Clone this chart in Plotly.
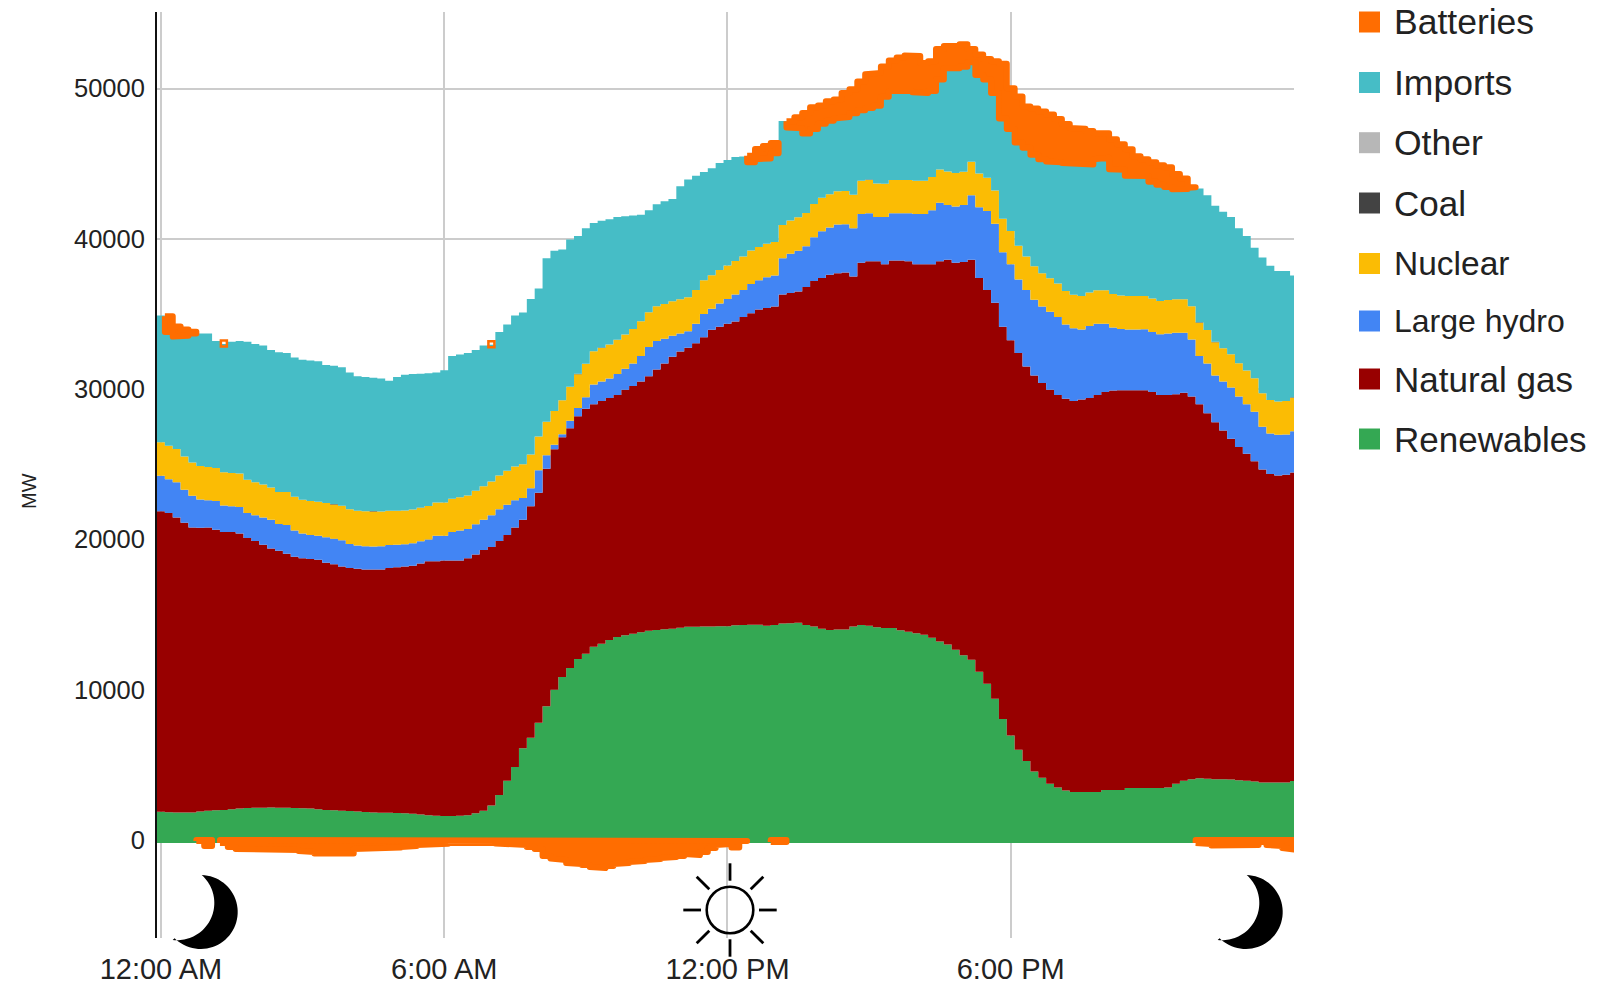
import numpy as np
import plotly.graph_objects as go

# Readings taken every 10 minutes, in MW. Each *_top is the upper edge of that band in the stack.
renewables = [1880,1850,1830,1830,1830,1900,1950,1980,2000,2050,2100,2130,2150,2150,2160,2150,2150,2130,2110,2090,
 2050,2000,1980,1950,1930,1900,1860,1830,1820,1810,1790,1780,1740,1700,1650,1620,1600,1600,1620,1650,
 1780,1950,2300,3000,3950,4850,6100,6800,7800,8900,10000,10850,11450,12050,12400,12850,13050,13300,13500,13620,
 13720,13820,13920,13980,14030,14060,14120,14180,14190,14200,14210,14220,14220,14280,14300,14320,14320,14250,14300,14400,
 14420,14450,14300,14200,14050,13980,14000,14000,14200,14300,14250,14150,14100,14100,13950,13850,13750,13650,13450,13200,
 13000,12650,12300,12000,11200,10400,9400,8050,6950,6000,5250,4550,4150,3750,3500,3300,3200,3200,3200,3200,
 3330,3330,3330,3460,3460,3460,3460,3460,3500,3750,3950,4050,4110,4080,4050,4050,4030,3980,3950,3900,
 3830,3820,3820,3830,3930]
natural_gas_top = [21870,21750,21450,21100,20800,20780,20800,20650,20500,20500,20400,20100,19900,19650,19400,19250,19050,18850,18750,18700,
 18650,18450,18350,18200,18100,18050,18000,18000,18000,18100,18150,18200,18250,18400,18550,18550,18600,18600,18600,18750,
 19000,19300,19500,19900,20300,20800,21300,22200,23100,24700,26000,26800,27400,28200,28700,29000,29200,29400,29600,29950,
 30200,30500,30850,31300,31700,32150,32500,32750,33050,33450,33950,34150,34350,34500,34800,35050,35300,35400,35500,36300,
 36400,36500,36800,37200,37400,37600,37700,37750,37500,38400,38500,38500,38300,38550,38550,38500,38300,38300,38300,38500,
 38600,38400,38450,38600,37400,36600,35750,34150,33250,32400,31500,30900,30400,29950,29600,29350,29200,29300,29400,29600,
 29800,29900,29930,29930,29930,29930,29800,29600,29600,29650,29750,29500,29000,28400,27800,27250,26700,26150,25700,25200,
 24650,24350,24250,24300,24450]
large_hydro_top = [24240,24000,23800,23300,22900,22650,22600,22550,22250,22200,22150,21750,21600,21450,21300,21020,20950,20600,20400,20300,
 20250,20150,20050,19950,19700,19600,19550,19530,19550,19630,19650,19680,19750,19870,20000,20250,20240,20500,20600,20700,
 21000,21300,21600,22000,22300,22600,22760,23400,24600,25600,26300,27000,27900,28750,29450,30300,30500,30700,31000,31350,
 31700,32200,32800,33200,33350,33550,33700,33850,34350,35000,35350,35700,36000,36300,36600,37000,37250,37450,37550,38700,
 39000,39200,39500,40100,40500,40750,40950,40960,40700,41650,41700,41450,41450,41700,41700,41700,41650,41650,41900,42400,
 42250,42150,42250,42900,42100,41850,41000,39100,38300,37300,36600,35950,35500,35150,34800,34300,34050,33970,34200,34350,
 34350,34100,34000,33970,33970,33980,33800,33650,33700,33750,33750,33300,32200,31700,30900,30500,30100,29500,29000,28500,
 27500,27050,26970,26980,27200]
nuclear = [2220,2230,2220,2210,2220,2230,2220,2200,2220,2210,2230,2220,2200,2210,2150,2130,2200,2230,2240,2250,
 2260,2270,2280,2290,2300,2300,2320,2330,2300,2280,2260,2250,2240,2230,2220,2210,2220,2200,2210,2220,
 2230,2240,2250,2250,2260,2250,2240,2250,2240,2230,2250,2260,2250,2240,2230,2220,2240,2260,2280,2290,
 2300,2310,2320,2320,2310,2290,2270,2260,2250,2240,2230,2230,2220,2220,2220,2220,2210,2220,2230,2220,
 2220,2230,2220,2220,2230,2220,2220,2220,2230,2220,2220,2230,2220,2220,2210,2220,2220,2210,2220,2210,
 2220,2220,2210,2230,2240,2220,2220,2230,2220,2230,2220,2220,2210,2220,2220,2230,2220,2220,2220,2230,
 2220,2220,2220,2220,2230,2220,2220,2210,2220,2220,2230,2220,2220,2230,2220,2210,2220,2220,2230,2220,
 2220,2220,2210,2220,2230]
coal = [0]*145
for i in (22, 27, 33, 53, 56, 90, 132, 134, 144):
    coal[i] = 25
other = [0]*145
imports_top = [34900,33800,33500,33550,33700,33700,33700,33200,33000,33150,33200,33150,33000,32900,32600,32450,32400,32100,31950,31900,
 31850,31600,31550,31450,31100,30850,30800,30750,30700,30550,30800,30950,31000,31020,31050,31100,31250,32200,32300,32400,
 32600,32900,32950,33800,34300,34900,35100,36000,36700,38700,39200,39280,39950,40180,40700,41050,41200,41300,41450,41500,
 41550,41600,41900,42300,42500,42650,43500,43950,44200,44450,44700,45050,45250,45450,45480,45100,45300,45350,45700,47830,
 47400,47350,47000,47300,47650,47850,48000,48100,48350,48550,48700,48850,49450,49830,49830,49830,49750,49700,49830,50600,
 51340,51340,51450,51750,50900,50600,49700,48000,47300,46400,46050,45600,45300,45150,45100,45050,45000,44950,44950,45300,
 45400,44620,44600,44200,44150,44170,43800,43600,43450,43300,43320,43400,43350,42900,42200,41800,41450,40700,40180,39400,
 38750,38200,37850,37850,37560]
batteries_discharge = [0,1040,670,420,120,0,0,0,30,0,0,0,0,0,0,0,0,0,0,0,
 0,0,0,0,0,0,0,0,0,0,0,0,0,0,0,0,0,0,0,0,
 0,0,30,0,0,0,0,0,0,0,0,0,0,0,0,0,0,0,0,0,
 0,0,0,0,0,0,0,0,0,0,0,0,0,0,0,420,670,820,670,0,
 420,740,1370,1450,1220,1300,1270,1600,1600,1920,2250,2190,2020,2040,2240,2370,2410,2000,1990,2020,
 1480,1480,1490,870,1370,1370,2120,3640,2720,3070,2750,3070,3170,3120,2870,2590,2370,2370,2220,1740,
 1620,2000,1690,1750,1340,1120,1290,1290,1310,1010,700,30,0,0,0,0,0,0,0,0,
 0,0,0,0,0]
batteries_charge = [0,0,0,0,0,-67,-400,0,-200,-470,-600,-650,-700,-680,-650,-650,-640,-660,-730,-800,
 -900,-900,-900,-900,-900,-600,-570,-530,-530,-500,-500,-470,-400,-330,-310,-270,-250,-200,-200,-130,
 -130,-170,-200,-230,-270,-300,-330,-470,-600,-1070,-1230,-1330,-1530,-1600,-1670,-1800,-1870,-1730,-1600,-1530,
 -1470,-1400,-1330,-1270,-1200,-1130,-1070,-930,-1000,-800,-530,-330,-270,-500,-70,0,0,0,-130,-130,
 0,0,0,0,0,0,0,0,0,0,0,0,0,0,0,0,0,0,0,0,
 0,0,0,0,0,0,0,0,0,0,0,0,0,0,0,0,0,0,0,0,
 0,0,0,0,0,0,0,0,0,0,0,0,-200,-270,-370,-330,-400,-400,-400,-330,
 -130,-330,-400,-530,-630]

time_ticks = [0, 360, 720, 1080]
time_labels = ["12:00 AM", "6:00 AM", "12:00 PM", "6:00 PM"]
mw_ticks = [0, 10000, 20000, 30000, 40000, 50000]
legend_names = ["Batteries", "Imports", "Other", "Coal", "Nuclear", "Large hydro", "Natural gas", "Renewables"]
colors = {"Batteries": "#ff6d01", "Imports": "#46bdc6", "Other": "#b7b7b7", "Coal": "#434343",
          "Nuclear": "#fbbc04", "Large hydro": "#4285f4", "Natural gas": "#980000", "Renewables": "#34a853"}

for arr in (renewables, natural_gas_top, large_hydro_top, nuclear, imports_top, batteries_discharge, batteries_charge):
    assert len(arr) == 145, len(arr)

W, H = 1613, 982
L, R, T, B = 157, 1294, 12, 938
def xp(px): return (px - L) / (R - L)
def yp(py): return 1 - (py - T) / (B - T)

ren = np.array(renewables, float)
gas = np.array(natural_gas_top, float) - ren
hyd = np.array(large_hydro_top, float) - np.array(natural_gas_top, float)
nuc = np.array(nuclear, float)
coa = np.array(coal, float)
oth = np.array(other, float)
imp = np.array(imports_top, float) - np.array(large_hydro_top, float) - nuc - coa - oth

edges = np.arange(145) * 10 - 5.0       # each reading holds for the 10 minutes around it
x_all = np.append(edges, 1440.0)

fig = go.Figure()
for name, vals in [("Renewables", ren), ("Natural gas", gas), ("Large hydro", hyd), ("Nuclear", nuc),
                   ("Coal", coa), ("Other", oth), ("Imports", imp)]:
    fig.add_trace(go.Scatter(x=x_all, y=np.append(vals, vals[-1]), name=name, stackgroup="supply",
                             mode="lines", line=dict(shape="hv", width=0), fillcolor=colors[name],
                             showlegend=False, hoverinfo="skip"))

# the green band's lower edge is slightly thickened in the reference
fig.add_trace(go.Scatter(x=[x_all[0], x_all[-1]], y=[0, 0], mode="lines",
                         line=dict(color=colors["Renewables"], width=6), showlegend=False, hoverinfo="skip"))

def segments(v):
    idx = np.flatnonzero(np.asarray(v) != 0)
    if idx.size == 0:
        return []
    return np.split(idx, np.flatnonzero(np.diff(idx) > 1) + 1)

def add_block(seg, low, high):
    xs = np.repeat(np.append(edges, 1440.0)[seg[0]:seg[-1] + 2], 2)[1:-1]
    top = np.repeat(high[seg], 2)
    bot = np.repeat(low[seg], 2)
    fig.add_trace(go.Scatter(x=np.concatenate([xs, xs[::-1], xs[:1]]),
                             y=np.concatenate([top, bot[::-1], top[:1]]),
                             mode="lines", fill="toself", fillcolor=colors["Batteries"],
                             line=dict(color=colors["Batteries"], width=6),
                             showlegend=False, hoverinfo="skip"))

stack_top = np.array(imports_top, float)
dis = np.array(batteries_discharge, float)
chg = np.array(batteries_charge, float)
for seg in segments(dis):
    if len(seg) > 1:
        add_block(seg, stack_top, stack_top + dis)
    else:
        fig.add_trace(go.Scatter(x=edges[seg] + 5, y=(stack_top + dis)[seg], mode="markers",
                                 marker=dict(symbol="square-open", size=6, color=colors["Batteries"],
                                             line=dict(color=colors["Batteries"], width=2.5)),
                                 showlegend=False, hoverinfo="skip"))
for seg in segments(chg):
    add_block(seg, np.zeros(145), chg)

# ---- night / day icons
def poly(pts):
    return "M" + " L".join(f"{xp(a):.5f},{yp(b):.5f}" for a, b in pts) + " Z"

def circle_through(p, q, r):
    ax, ay = p; bx, by = q; cx, cy = r
    d = 2 * (ax * (by - cy) + bx * (cy - ay) + cx * (ay - by))
    ux = ((ax**2 + ay**2) * (by - cy) + (bx**2 + by**2) * (cy - ay) + (cx**2 + cy**2) * (ay - by)) / d
    uy = ((ax**2 + ay**2) * (cx - bx) + (bx**2 + by**2) * (ax - cx) + (cx**2 + cy**2) * (bx - ax)) / d
    return ux, uy, np.hypot(ax - ux, ay - uy)

def moon(dx):
    tip1 = (1246.7 - dx, 875.0); tip2 = (1217.7 - dx, 940.0); inner = (1259.3 - dx, 903.3)
    cx, cy, rad = 1245.7 - dx, 912.0, 37.0
    a1 = np.arctan2(tip1[1] - cy, tip1[0] - cx)
    a2 = np.arctan2(tip2[1] - cy, tip2[0] - cx)
    outer = [(cx + rad * np.cos(a), cy + rad * np.sin(a)) for a in np.linspace(a1, a2, 50)]
    ux, uy, r2 = circle_through(tip2, inner, tip1)
    b1 = np.arctan2(tip2[1] - uy, tip2[0] - ux)
    b2 = np.arctan2(tip1[1] - uy, tip1[0] - ux)
    inn = [(ux + r2 * np.cos(a), uy + r2 * np.sin(a)) for a in np.linspace(b1, b2, 50)]
    return poly(outer + inn)

shapes = []
for dx in (0, 1045):
    shapes.append(dict(type="path", xref="paper", yref="paper", path=moon(dx),
                       fillcolor="black", line=dict(width=0), layer="above"))
sx, sy, sr = 730, 910, 23.3
shapes.append(dict(type="circle", xref="paper", yref="paper", x0=xp(sx - sr), x1=xp(sx + sr),
                   y0=yp(sy + sr), y1=yp(sy - sr), line=dict(color="black", width=2.6), layer="above"))
for (a, b, c, d) in [(0, -46.7, 0, -29.3), (0, 29.3, 0, 46.7), (-46.7, 0, -29, 0), (29, 0, 46.7, 0),
                     (-33.3, -33.3, -20.7, -20.7), (33.3, -33.3, 20.7, -20.7),
                     (-33.3, 33.3, -20.7, 20.7), (33.3, 33.3, 20.7, 20.7)]:
    shapes.append(dict(type="line", xref="paper", yref="paper", x0=xp(sx + a), y0=yp(sy + b),
                       x1=xp(sx + c), y1=yp(sy + d), line=dict(color="black", width=2.8), layer="above"))

# ---- legend
annotations = []
legend_y = [22, 82.5, 142.7, 203, 263.5, 321, 379, 439]
legend_size = [35.5, 35.5, 35.5, 35, 33.5, 32, 35, 35]
for name, y, fs in zip(legend_names, legend_y, legend_size):
    shapes.append(dict(type="rect", xref="paper", yref="paper", x0=xp(1359), x1=xp(1380), y0=yp(y + 10.5), y1=yp(y - 10.5),
                       fillcolor=colors[name], line=dict(width=0), layer="above"))
    annotations.append(dict(text=name, xref="paper", yref="paper", x=xp(1392), y=yp(y), xanchor="left", yanchor="middle",
                            showarrow=False, font=dict(size=fs, color="#222222",
                                                       family="Liberation Sans, Arial, sans-serif")))
annotations.append(dict(text="MW", xref="paper", yref="paper", x=xp(29), y=yp(491), xanchor="center", yanchor="middle",
                        textangle=-90, showarrow=False, font=dict(size=20, color="#222222",
                                                                  family="Liberation Sans, Arial, sans-serif")))

y_low = (840 - B) / 150.3 * 10000
y_high = (840 - T) / 150.3 * 10000
fig.update_layout(
    width=W, height=H, autosize=False, margin=dict(l=L, r=W - R, t=T, b=H - B, pad=0),
    paper_bgcolor="white", plot_bgcolor="white", showlegend=False,
    font=dict(family="Liberation Sans, Arial, sans-serif", color="#222222"),
    shapes=shapes, annotations=annotations,
    xaxis=dict(range=[-5, 1440], tickmode="array", tickvals=time_ticks, ticktext=time_labels,
               showgrid=True, gridcolor="#cccccc", gridwidth=2, zeroline=False, showline=False,
               ticks="", tickfont=dict(size=29), ticklabelstandoff=11, automargin=False),
    yaxis=dict(range=[y_low, y_high], tickmode="array", tickvals=mw_ticks, ticktext=[str(v) for v in mw_ticks],
               showgrid=True, gridcolor="#cccccc", gridwidth=2, zeroline=False, showline=True,
               linecolor="#111111", linewidth=2, ticks="", tickfont=dict(size=25.5), ticklabelstandoff=5, automargin=False),
)
page_fix = ("document.body.style.margin='0';"
            "var s=document.createElement('style');"
            "s.textContent='.js-line{stroke-linejoin:round !important;}';"
            "document.head.appendChild(s);")
fig.write_html("out.html", config=dict(displayModeBar=False), post_script=page_fix)
